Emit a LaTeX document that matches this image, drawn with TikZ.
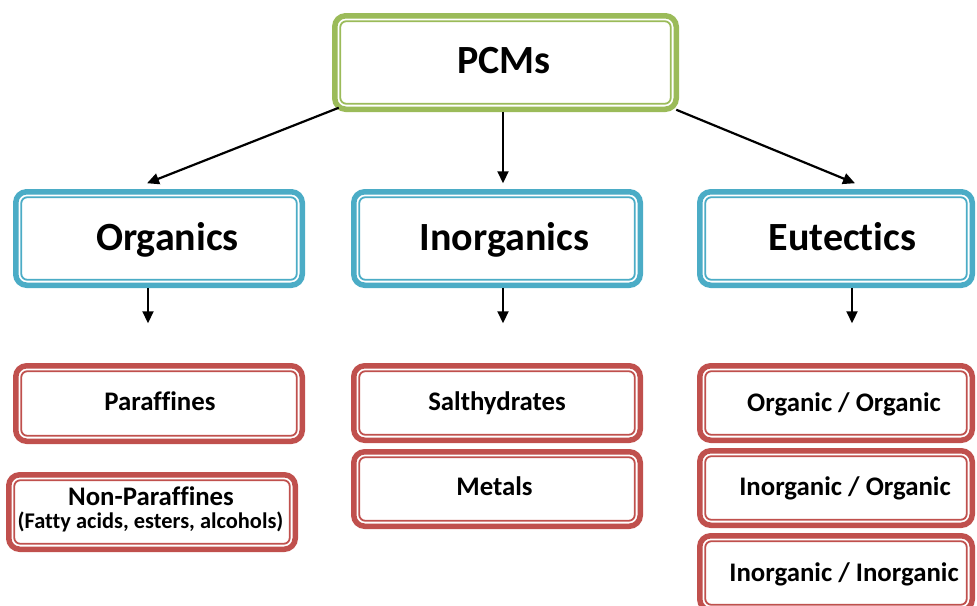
\documentclass[tikz,border=0pt]{standalone}
\usepackage{fontspec}
\setmainfont[Ligatures=NoCommon]{Carlito}
\usetikzlibrary{arrows.meta,calc}
\definecolor{cgreen}{HTML}{9BBB59}
\definecolor{cblue}{HTML}{4BACC6}
\definecolor{cred}{HTML}{C0504D}
\tikzset{
  boxo/.style={draw=#1, line width=5.5pt, rounded corners=11pt, fill=white, inner sep=0pt, outer sep=0pt},
  boxi/.style={draw=#1, line width=1.8pt, rounded corners=6pt},
  big/.style={font=\fontsize{40}{44}\selectfont\bfseries, inner sep=0pt, anchor=base},
  small/.style={font=\fontsize{26.8}{30}\selectfont\bfseries, inner sep=0pt, anchor=base},
  tiny/.style={font=\fontsize{22.4}{25}\selectfont\bfseries, inner sep=0pt, anchor=base},
  arr/.style={line width=2.2pt, -{Triangle[length=12pt,width=11pt]}},
}
\newcommand{\dbox}[6]{% name, cx, cy, w, h, color
  \node[boxo=#6, minimum width=#4pt-5.5pt, minimum height=#5pt-5.5pt] (#1) at (#2,#3) {};
  \draw[boxi=#6] ($(#1.north west)+(5.5pt,-5.5pt)$) rectangle ($(#1.south east)+(-5.5pt,5.5pt)$);
}
\begin{document}
\begin{tikzpicture}[x=1pt,y=-1pt]
\useasboundingbox (0,0) rectangle (977,605);
\clip (0,0) rectangle (977,605);
\dbox{pcm}{505.5}{62.5}{347}{99}{cgreen}
\dbox{org}{159}{238.5}{292}{99}{cblue}
\dbox{inorg}{497}{238.5}{292}{99}{cblue}
\dbox{eut}{836}{238.5}{278}{99}{cblue}
\dbox{para}{159}{403.5}{292}{81}{cred}
\dbox{npara}{152}{512}{292}{80}{cred}
\dbox{salt}{497}{403}{292}{80}{cred}
\dbox{met}{497}{489}{292}{80}{cred}
\dbox{oo}{836}{403}{278}{80}{cred}
\dbox{io}{836}{488}{278}{80}{cred}
\dbox{ii}{836}{573}{278}{80}{cred}

\node[big] (pcmt) at (504,73) {PCMs};
\node[big] (orgt) at (167.5,250) {Organics};
\node[big] (inorgt) at (504.5,250) {Inorganics};
\node[big] (eutt) at (842.5,250) {Eutectics};
\node[small] (parat) at (160,410) {Paraffines};
\node[small] (nparat) at (151,505) {Non-Paraffines};
\node[tiny] (npara2) at (150.5,528) {(Fatty acids, esters, alcohols)};
\node[small] (saltt) at (497,410) {Salthydrates};
\node[small] (mett) at (494.5,495) {Metals};
\node[small] (oot) at (844,411) {Organic / Organic};
\node[small] (iot) at (845,495) {Inorganic / Organic};
\node[small] (iit) at (844,581) {Inorganic / Inorganic};

\draw[arr] ([xshift=4pt,yshift=1.5pt]pcm.south west) -- ([xshift=-12pt,yshift=8.5pt]org.north);
\draw[arr] ([xshift=-2.5pt,yshift=-2.5pt]pcm.south) -- ([xshift=6pt,yshift=8.5pt]inorg.north);
\draw[arr] ([xshift=0pt,yshift=-0.5pt]pcm.south east) -- ([xshift=19pt,yshift=8.5pt]eut.north);
\draw[arr] ([xshift=-11pt,yshift=-2.5pt]org.south) -- ([xshift=-11pt,yshift=42.5pt]para.north);
\draw[arr] ([xshift=6pt,yshift=-2.5pt]inorg.south) -- ([xshift=6pt,yshift=42.5pt]salt.north);
\draw[arr] ([xshift=16pt,yshift=-2.5pt]eut.south) -- ([xshift=16pt,yshift=42.5pt]oo.north);
\end{tikzpicture}
\end{document}
